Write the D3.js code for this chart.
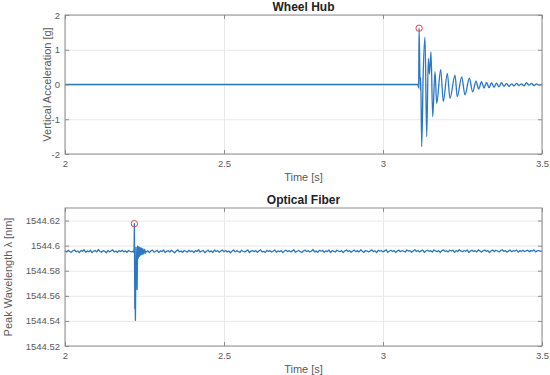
<!DOCTYPE html>
<html>
<head>
<meta charset="utf-8">
<script src="https://cdn.jsdelivr.net/npm/d3@7"></script>
<style>
  body { margin: 0; background: #fff; }
  text { font-family: "Liberation Sans", Arial, sans-serif; }
</style>
</head>
<body>
<div id="chart"></div>
<script>
// ---- data ----

// top panel: wheel hub acceleration [g], flat then a decaying ring
const hubTimes = [2.000, 3.110, 3.112, 3.1135, 3.117, 3.1186, 3.1217, 3.1264, 3.1321, 3.1374,
  3.1425, 3.1462, 3.1509, 3.1563, 3.1635, 3.1689, 3.1814, 3.1896, 3.2022, 3.2107,
  3.2264, 3.2336, 3.2475, 3.2579, 3.2714, 3.2821, 3.2925, 3.3009,
  3.310, 3.3176, 3.3255, 3.3333, 3.3412, 3.3491, 3.3569, 3.3648, 3.3726, 3.3805,
  3.3884, 3.3962, 3.4041, 3.4119, 3.4198, 3.4277, 3.4355, 3.4434, 3.4513, 3.4591,
  3.4670, 3.4748, 3.4827, 3.4906, 3.500];
const hubValues = [0, 0, -0.10, 1.62, -0.15, 0.20, -1.79, 0.30, 1.36, -1.50,
  0.75, 0.30, 0.94, -0.93, 0.37, -0.54, 0.43, -0.49, 0.32, -0.40,
  0.27, -0.35, 0.22, -0.30, 0.18, -0.21, 0.10, -0.13,
  0.08, -0.10, 0.06, -0.09, 0.05, -0.08, 0.04, -0.07, 0.05, -0.05,
  0.03, -0.05, 0.02, -0.04, 0.03, -0.03, 0.02, -0.04, 0.05, -0.02,
  0.03, -0.03, 0.02, -0.02, 0.01];
const hubPeak = [3.1135, 1.62];

// bottom panel: peak wavelength [nm]
// noise before the hit, sampled every 5 ms from 2.000 s
const fiberPreStart = 2.000, fiberPreStep = 0.005;
const fiberPre = [
  1544.5958, 1544.5950, 1544.5962, 1544.5953, 1544.5946, 1544.5960, 1544.5965, 1544.5951, 1544.5957, 1544.5945,
  1544.5961, 1544.5954, 1544.5967, 1544.5948, 1544.5958, 1544.5951, 1544.5963, 1544.5944, 1544.5957, 1544.5961,
  1544.5950, 1544.5969, 1544.5953, 1544.5947, 1544.5960, 1544.5955, 1544.5943, 1544.5962, 1544.5951, 1544.5958,
  1544.5966, 1544.5949, 1544.5957, 1544.5946, 1544.5960, 1544.5953, 1544.5963, 1544.5950, 1544.5958, 1544.5947,
  1544.5961, 1544.5955, 1544.5951, 1544.5956];
// the spike itself
const fiberSpikeTimes = [2.2170, 2.2182, 2.2195, 2.2204, 2.2214, 2.2233, 2.2252, 2.2267, 2.2283, 2.2302,
  2.2321, 2.2340, 2.2358, 2.2381, 2.2403, 2.2425, 2.2450, 2.2475, 2.2503, 2.2531];
const fiberSpikeValues = [1544.5945, 1544.6175, 1544.5500, 1544.5560, 1544.5405, 1544.5985, 1544.5880, 1544.5650, 1544.5995, 1544.5900,
  1544.5990, 1544.5915, 1544.5985, 1544.5925, 1544.5980, 1544.5930, 1544.5975, 1544.5935, 1544.5970, 1544.5940];
const fiberPeak = [2.2182, 1544.6175];
// noise after the hit, every 5 ms from 2.255 s
const fiberPostStart = 2.255, fiberPostStep = 0.005;
const fiberPost = [
  1544.5951, 1544.5960, 1544.5944, 1544.5957, 1544.5964, 1544.5948, 1544.5955, 1544.5961, 1544.5946, 1544.5958,
  1544.5952, 1544.5965, 1544.5945, 1544.5955, 1544.5960, 1544.5949, 1544.5963, 1544.5953, 1544.5943, 1544.5958,
  1544.5966, 1544.5950, 1544.5957, 1544.5946, 1544.5961, 1544.5955, 1544.5948, 1544.5964, 1544.5952, 1544.5958,
  1544.5945, 1544.5960, 1544.5953, 1544.5968, 1544.5949, 1544.5957, 1544.5961, 1544.5944, 1544.5955, 1544.5963,
  1544.5950, 1544.5958, 1544.5946, 1544.5965, 1544.5953, 1544.5960, 1544.5947, 1544.5957, 1544.5964, 1544.5952,
  1544.5961, 1544.5949, 1544.5958, 1544.5943, 1544.5955, 1544.5966, 1544.5950, 1544.5960, 1544.5953, 1544.5946,
  1544.5963, 1544.5955, 1544.5949, 1544.5958, 1544.5965, 1544.5945, 1544.5957, 1544.5961, 1544.5952, 1544.5960,
  1544.5947, 1544.5958, 1544.5967, 1544.5950, 1544.5955, 1544.5946, 1544.5963, 1544.5953, 1544.5960, 1544.5949,
  1544.5957, 1544.5965, 1544.5947, 1544.5958, 1544.5952, 1544.5961, 1544.5944, 1544.5957, 1544.5964, 1544.5953,
  1544.5960, 1544.5950, 1544.5958, 1544.5966, 1544.5947, 1544.5955, 1544.5961, 1544.5952, 1544.5945, 1544.5958,
  1544.5964, 1544.5953, 1544.5960, 1544.5949, 1544.5957, 1544.5969, 1544.5950, 1544.5958, 1544.5946, 1544.5963,
  1544.5955, 1544.5961, 1544.5947, 1544.5958, 1544.5952, 1544.5965, 1544.5945, 1544.5960, 1544.5955, 1544.5949,
  1544.5963, 1544.5957, 1544.5952, 1544.5961, 1544.5944, 1544.5958, 1544.5965, 1544.5953, 1544.5960, 1544.5947,
  1544.5957, 1544.5964, 1544.5952, 1544.5960, 1544.5950, 1544.5967, 1544.5955, 1544.5946, 1544.5961, 1544.5957,
  1544.5949, 1544.5960, 1544.5965, 1544.5953, 1544.5958, 1544.5945, 1544.5963, 1544.5955, 1544.5961, 1544.5950,
  1544.5958, 1544.5966, 1544.5947, 1544.5957, 1544.5963, 1544.5953, 1544.5960, 1544.5944, 1544.5958, 1544.5964,
  1544.5952, 1544.5961, 1544.5955, 1544.5949, 1544.5965, 1544.5957, 1544.5960, 1544.5947, 1544.5958, 1544.5968,
  1544.5953, 1544.5961, 1544.5950, 1544.5960, 1544.5964, 1544.5946, 1544.5957, 1544.5963, 1544.5955, 1544.5960,
  1544.5949, 1544.5965, 1544.5958, 1544.5952, 1544.5961, 1544.5945, 1544.5960, 1544.5966, 1544.5955, 1544.5958,
  1544.5950, 1544.5963, 1544.5957, 1544.5964, 1544.5947, 1544.5960, 1544.5953, 1544.5967, 1544.5958, 1544.5952,
  1544.5961, 1544.5955, 1544.5965, 1544.5946, 1544.5958, 1544.5963, 1544.5953, 1544.5960, 1544.5950, 1544.5966,
  1544.5957, 1544.5948, 1544.5961, 1544.5964, 1544.5955, 1544.5960, 1544.5945, 1544.5958, 1544.5965, 1544.5953,
  1544.5963, 1544.5957, 1544.5950, 1544.5961, 1544.5967, 1544.5955, 1544.5960, 1544.5949, 1544.5958, 1544.5964,
  1544.5952, 1544.5961, 1544.5957, 1544.5965, 1544.5948, 1544.5960, 1544.5955, 1544.5963, 1544.5953, 1544.5958,
  1544.5964, 1544.5952, 1544.5960, 1544.5957, 1544.5966, 1544.5950, 1544.5958, 1544.5961, 1544.5955, 1544.5959];

// tick values
const timeTicks = [2, 2.5, 3, 3.5];
const hubTicks = [-2, -1, 0, 1, 2];
const fiberTicks = [1544.52, 1544.54, 1544.56, 1544.58, 1544.6, 1544.62];

// ---- layout ----
const width = 550, height = 375;
const left = 65, right = 542;
const lineColor = "#2a78c2";

const svg = d3.select("#chart")
    .append("svg")
    .attr("width", width)
    .attr("height", height);

const xScale = d3.scaleLinear().domain([2, 3.5]).range([left, right]);

// build the point lists
const hubData = hubTimes.map((t, i) => [t, hubValues[i]]);
const fiberData = []
    .concat(fiberPre.map((v, i) => [fiberPreStart + i * fiberPreStep, v]))
    .concat(fiberSpikeTimes.map((t, i) => [t, fiberSpikeValues[i]]))
    .concat(fiberPost.map((v, i) => [fiberPostStart + i * fiberPostStep, v]));

function drawPanel(opts) {
    const yScale = d3.scaleLinear().domain(opts.yDomain).range([opts.bottom, opts.top]);
    const g = svg.append("g");
    const h = opts.bottom - opts.top;

    // grid
    g.append("g")
        .attr("transform", `translate(0,${opts.bottom})`)
        .call(d3.axisBottom(xScale).tickValues(timeTicks).tickSize(-h).tickFormat(""))
        .call(a => a.select(".domain").remove())
        .selectAll("line").attr("stroke", "#e9e9e9");
    g.append("g")
        .attr("transform", `translate(${left},0)`)
        .call(d3.axisLeft(yScale).tickValues(opts.yTicks).tickSize(-(right - left)).tickFormat(""))
        .call(a => a.select(".domain").remove())
        .selectAll("line").attr("stroke", "#e9e9e9");

    // the line
    const line = d3.line().curve(opts.curve).x(d => xScale(d[0])).y(d => yScale(d[1]));
    g.append("path")
        .datum(opts.data)
        .attr("fill", "none")
        .attr("stroke", lineColor)
        .attr("stroke-width", 1.3)
        .attr("stroke-linejoin", "round")
        .attr("d", line);

    // red marker at the peak
    g.append("circle")
        .attr("cx", xScale(opts.peak[0]))
        .attr("cy", yScale(opts.peak[1]))
        .attr("r", 3.2)
        .attr("fill", "none")
        .attr("stroke", "#e0454a")
        .attr("stroke-width", 1);

    // axes, ticks pointing inward on all four sides
    const xb = g.append("g")
        .attr("transform", `translate(0,${opts.bottom})`)
        .call(d3.axisBottom(xScale).tickValues(timeTicks).tickSize(-4).tickPadding(6)
            .tickFormat(d3.format("~g")));
    const xt = g.append("g")
        .attr("transform", `translate(0,${opts.top})`)
        .call(d3.axisTop(xScale).tickValues(timeTicks).tickSize(-4).tickFormat(""));
    const yl = g.append("g")
        .attr("transform", `translate(${left},0)`)
        .call(d3.axisLeft(yScale).tickValues(opts.yTicks).tickSize(-4).tickPadding(5)
            .tickFormat(d => String(+d.toFixed(2))));
    const yr = g.append("g")
        .attr("transform", `translate(${right},0)`)
        .call(d3.axisRight(yScale).tickValues(opts.yTicks).tickSize(-4).tickFormat(""));
    [xb, xt, yl, yr].forEach(a => {
        a.select(".domain").remove();
        a.selectAll("line").attr("stroke", "#8c8c8c");
        a.selectAll("text").attr("fill", "#5a5a5a").attr("font-size", "9.5px")
            .attr("font-family", '"Liberation Sans", Arial, sans-serif');
    });

    // box
    g.append("rect")
        .attr("x", left).attr("y", opts.top)
        .attr("width", right - left).attr("height", h)
        .attr("fill", "none")
        .attr("stroke", "#8c8c8c")
        .attr("stroke-width", 1);

    // title + labels
    const mid = (left + right) / 2;
    g.append("text")
        .attr("x", mid).attr("y", opts.top - 8)
        .attr("dy", "0.35em")
        .attr("text-anchor", "middle")
        .attr("font-weight", "bold")
        .attr("font-size", "12px")
        .attr("fill", "#222")
        .text(opts.title);
    g.append("text")
        .attr("x", mid).attr("y", opts.bottom + 23)
        .attr("dy", "0.35em")
        .attr("text-anchor", "middle")
        .attr("font-size", "11px")
        .attr("fill", "#5a5a5a")
        .text("Time [s]");
    g.append("text")
        .attr("transform", `translate(${opts.ylabelX},${(opts.top + opts.bottom) / 2}) rotate(-90)`)
        .attr("dy", "0.35em")
        .attr("text-anchor", "middle")
        .attr("font-size", "11px")
        .attr("fill", "#5a5a5a")
        .text(opts.ylabel);
}

drawPanel({
    top: 15, bottom: 154,
    yDomain: [-2, 2], yTicks: hubTicks,
    data: hubData, peak: hubPeak, curve: d3.curveMonotoneX,
    title: "Wheel Hub", ylabel: "Vertical Acceleration [g]", ylabelX: 47
});

drawPanel({
    top: 208, bottom: 346,
    yDomain: [1544.52, 1544.63], yTicks: fiberTicks,
    data: fiberData, peak: fiberPeak, curve: d3.curveLinear,
    title: "Optical Fiber", ylabel: "Peak Wavelength \u03bb [nm]", ylabelX: 8
});
</script>
</body>
</html>
